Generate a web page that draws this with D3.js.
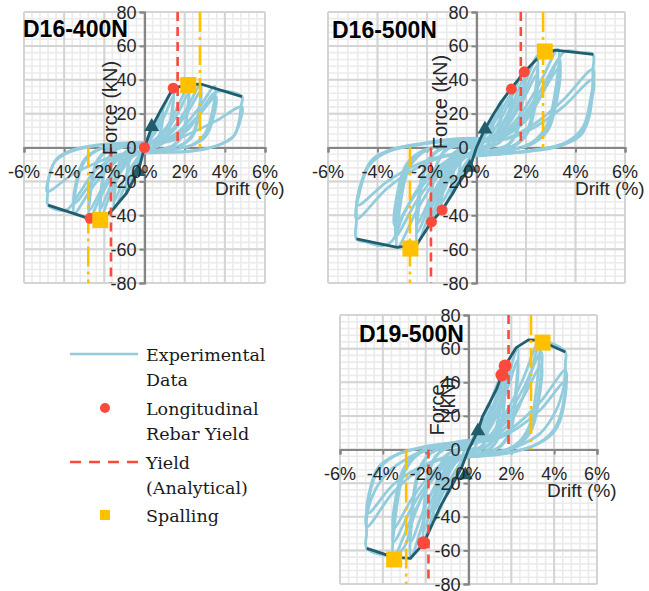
<!DOCTYPE html>
<html><head><meta charset="utf-8">
<script src="https://cdn.jsdelivr.net/npm/d3@7"></script>
<style>body{margin:0;background:#fff} svg{display:block}</style>
</head><body>
<svg id="chart" width="649" height="591"></svg>
<script>
// Axis ticks shared by all three specimens
const driftTicks = [-6, -4, -2, 0, 2, 4, 6];
const forceTicks = [-80, -60, -40, -20, 0, 20, 40, 60, 80];
const driftTickLabels = ["-6%", "-4%", "-2%", "0%", "2%", "4%", "6%"];

// ---------- D16-400N ----------
const d16_400_loops = [
  [[0,0],[0.11,4],[0.23,8],[0.36,12],[0.32,5.5],[0.25,1.5],[0.12,0],[-0.09,-4],[-0.2,-9],[-0.31,-14],[-0.28,-6.5],[-0.22,-1.7],[-0.11,0],[0,0.5]],
  [[0,0.5],[0.27,7],[0.58,15.5],[0.9,24],[0.81,11],[0.63,3],[0.32,0],[0,-1],[-0.27,-8],[-0.58,-17.5],[-0.9,-27],[-0.81,-12],[-0.63,-3.2],[-0.32,0],[0,1]],
  [[0,1],[0.27,5],[0.58,12],[0.9,20],[0.81,9],[0.63,2.5],[0.32,0],[0,-1],[-0.27,-6],[-0.58,-14],[-0.9,-22],[-0.81,-10],[-0.63,-2.7],[-0.32,0],[0,1]],
  [[0,1],[0.43,10.5],[0.93,23],[1.43,35],[1.29,16],[1.0,4],[0.5,0],[0,-2],[-0.45,-11],[-0.98,-23],[-1.5,-36],[-1.35,-16],[-1.05,-4.3],[-0.52,0],[0,1.5]],
  [[0,1.5],[0.43,7],[0.93,17],[1.43,30],[1.29,14],[1.0,3.5],[0.5,0],[0,-2],[-0.45,-8],[-0.98,-18],[-1.5,-31],[-1.35,-14],[-1.05,-3.6],[-0.52,0],[0,1.5]],
  [[0,1.5],[0.55,5],[1.1,12],[1.65,24],[2.2,37],[2.11,20],[1.89,8],[1.5,2],[0.88,-1.3],[0.2,-2.5],[-0.55,-5],[-1.1,-13],[-1.65,-26],[-2.2,-42],[-2.11,-23],[-1.89,-9],[-1.5,-2],[-0.88,1],[-0.1,2]],
  [[-0.1,2],[0.55,4],[1.1,10],[1.65,20],[2.2,32],[2.11,18],[1.89,7],[1.5,1.6],[0.88,-1.1],[0.2,-2],[-0.55,-4],[-1.1,-11],[-1.65,-22],[-2.2,-36],[-2.11,-20],[-1.89,-8],[-1.5,-1.8],[-0.88,1],[-0.1,2]],
  [[-0.1,2],[0.7,4],[1.4,11],[2.1,23],[2.8,37.5],[2.69,21],[2.41,8],[1.9,2],[1.12,-1.2],[0.28,-2.5],[-0.69,-4.5],[-1.38,-13],[-2.06,-26],[-2.75,-42],[-2.64,-23],[-2.37,-9],[-1.87,-2],[-1.1,1.2],[-0.1,2.5]],
  [[-0.1,2.5],[0.7,3.5],[1.4,9.5],[2.1,20],[2.8,33],[2.69,18.5],[2.41,7],[1.9,1.8],[1.12,-1.1],[0.28,-2.2],[-0.69,-4],[-1.38,-11.5],[-2.06,-23],[-2.75,-37],[-2.64,-20],[-2.37,-8],[-1.87,-1.8],[-1.1,1.1],[-0.1,2.2]],
  [[-0.1,2.5],[0.88,4],[1.75,10],[2.63,22],[3.5,36],[3.36,20],[3.0,8],[2.4,1.8],[1.4,-1.2],[0.35,-2.5],[-0.88,-4],[-1.75,-12],[-2.63,-24],[-3.5,-39],[-3.36,-21],[-3.0,-8.5],[-2.4,-2],[-1.4,1.5],[-0.1,2.5]],
  [[-0.1,2.5],[0.89,3.5],[1.78,8.5],[2.66,18.5],[3.55,30],[3.4,16.5],[3.05,6.6],[2.4,1.5],[1.42,-1],[0.35,-2],[-0.88,-3.3],[-1.75,-10],[-2.63,-20.5],[-3.5,-33],[-3.36,-18],[-3.0,-7.3],[-2.4,-1.7],[-1.4,1.3],[-0.1,2.3]],
  [[-0.1,2.3],[1.2,4],[2.2,11],[3.0,25],[3.6,33],[4.85,30],[4.8,24],[4.72,16],[4.45,7],[3.6,1],[2.2,-2.5],[0.6,-3],[-1.2,-5],[-2.4,-13],[-3.3,-28],[-3.9,-37],[-4.8,-34],[-4.82,-27],[-4.8,-20],[-4.5,-9],[-3.8,-3],[-2.5,1],[-1.2,2.5],[0,3]],
  [[0,3],[1.2,3.5],[2.4,9],[3.6,16],[4.85,24],[4.72,14],[4.4,6],[3.7,1.5],[2.3,-2],[0.6,-2.8],[-1.2,-4],[-2.4,-9],[-3.6,-16],[-4.85,-26],[-4.72,-16],[-4.4,-7],[-3.7,-2],[-2.3,1.5],[-0.8,2.5],[0,2.5]]
];
const d16_400_envelope = [[-4.8,-34],[-2.75,-42],[-2.2,-42.5],[-1.6,-37],[-0.9,-27],[-0.31,-14],[0,0],[0.36,12],[0.9,24],[1.43,35],[2.18,37],[2.8,37.5],[4.85,30]];
const d16_400_rebarYield = [[1.43,35],[0,0],[-2.71,-41.8]];
const d16_400_spalling = [[2.18,36.9],[-2.2,-42.8]];
const d16_400_cracking = [[0.36,12.3],[-0.31,-14.3]];
const d16_400_yieldDrift = [1.65, -1.67];
const d16_400_spallDrift = [2.76, -2.8];

// ---------- D16-500N ----------
const d16_500_loops = [
  [[0,0],[0.08,2],[0.17,5],[0.25,7],[0.22,3],[0.1,0],[-0.08,-2],[-0.17,-5],[-0.25,-8],[-0.22,-3],[-0.1,0],[0,1]],
  [[0,1],[0.1,3.5],[0.22,7],[0.34,11],[0.3,5],[0.22,1],[0.1,0],[-0.08,-3.5],[-0.17,-7.5],[-0.27,-12],[-0.24,-5],[-0.17,-1],[-0.08,0],[0,1]],
  [[0,1],[0.21,6],[0.45,13],[0.7,20],[0.63,9],[0.49,2.4],[0.25,0],[0,-1],[-0.22,-6],[-0.47,-14],[-0.72,-21],[-0.65,-9.5],[-0.5,-2.5],[-0.25,0],[0,1.5]],
  [[0,1.5],[0.3,8],[0.65,17.5],[1.0,27],[0.9,12],[0.7,3],[0.35,0],[0,-2],[-0.3,-8.5],[-0.65,-18],[-1.0,-28],[-0.9,-12.5],[-0.7,-3.5],[-0.35,0],[0,2]],
  [[0,1.5],[0.3,6.5],[0.65,14.5],[1.0,23],[0.9,10],[0.7,2.6],[0.35,0],[0,-1.5],[-0.3,-7],[-0.65,-15],[-1.0,-24],[-0.9,-10.5],[-0.7,-3],[-0.35,0],[0,1.5]],
  [[0,2],[0.42,10.5],[0.91,23],[1.4,35],[1.26,16],[0.98,4],[0.49,0],[0,-3],[-0.42,-11],[-0.91,-24],[-1.4,-37],[-1.26,-17],[-0.98,-4.5],[-0.49,0],[0,2.5]],
  [[0,2],[0.42,8.5],[0.91,19],[1.4,31],[1.26,14],[0.98,3.5],[0.49,0],[0,-2.5],[-0.42,-9],[-0.91,-20],[-1.4,-32],[-1.26,-14.5],[-0.98,-4],[-0.49,0],[0,2]],
  [[0,2.5],[0.48,6],[0.95,16],[1.43,30],[1.9,45],[1.82,25],[1.63,10],[1.29,2],[0.76,-1.3],[0.2,-3],[-0.46,-6],[-0.93,-14],[-1.39,-28],[-1.85,-44],[-1.78,-24],[-1.59,-10],[-1.26,-2],[-0.74,1.4],[-0.1,3]],
  [[-0.1,3],[0.48,4],[0.95,12],[1.43,25],[1.9,40],[1.82,22],[1.63,9],[1.29,1.5],[0.76,-1.2],[0.2,-2.5],[-0.46,-4.5],[-0.93,-12],[-1.39,-25],[-1.85,-40],[-1.78,-22],[-1.59,-9],[-1.26,-1.5],[-0.74,1.2],[-0.1,2.5]],
  [[-0.1,2.5],[0.61,6],[1.23,17],[1.84,34],[2.45,54],[2.35,30],[2.1,12],[1.67,2.7],[0.98,-1.7],[0.25,-3.5],[-0.6,-6],[-1.2,-17],[-1.8,-35],[-2.4,-57],[-2.3,-31],[-2.06,-12.5],[-1.63,-2.8],[-0.96,1.6],[-0.1,3.5]],
  [[-0.1,3.5],[0.61,5],[1.23,14],[1.84,30],[2.45,48],[2.35,26],[2.1,10.5],[1.67,2.4],[0.98,-1.5],[0.25,-3],[-0.6,-5],[-1.2,-15],[-1.8,-31],[-2.4,-50],[-2.3,-27],[-2.06,-11],[-1.63,-2.5],[-0.96,1.5],[-0.1,3.5]],
  [[-0.1,3.5],[0.61,4.5],[1.23,12.5],[1.84,27],[2.45,43],[2.35,23],[2.1,9.5],[1.67,2.2],[0.98,-1.4],[0.25,-2.8],[-0.6,-4.5],[-1.2,-13.5],[-1.8,-28],[-2.4,-45],[-2.3,-24],[-2.06,-10],[-1.63,-2.3],[-0.96,1.4],[-0.1,3.2]],
  [[-0.1,3.5],[0.83,6],[1.65,17],[2.48,36],[3.3,58],[3.17,32],[2.84,13],[2.24,3],[1.32,-1.8],[0.33,-4],[-0.8,-6],[-1.6,-18],[-2.4,-37],[-3.2,-59],[-3.07,-33],[-2.75,-13],[-2.18,-3],[-1.28,1.7],[-0.1,4.5]],
  [[-0.1,4.5],[0.84,5],[1.68,15],[2.51,32],[3.35,52],[3.22,29],[2.88,11.5],[2.28,2.6],[1.34,-1.6],[0.33,-3.5],[-0.81,-5],[-1.63,-16],[-2.44,-32],[-3.25,-52],[-3.12,-29],[-2.8,-11.5],[-2.21,-2.6],[-1.3,1.6],[-0.1,4.5]],
  [[-0.1,4.5],[0.84,4.5],[1.68,13],[2.51,29],[3.35,47],[3.22,26],[2.88,10],[2.28,2.4],[1.34,-1.4],[0.33,-3],[-0.83,-4.5],[-1.65,-14],[-2.48,-28],[-3.3,-46],[-3.17,-25],[-2.84,-10],[-2.24,-2.3],[-1.32,1.4],[-0.1,4]],
  [[-0.1,4],[1.0,6],[2.0,16],[2.8,36],[3.3,52],[3.6,57],[4.2,56],[4.7,55],[4.7,45],[4.69,35],[4.55,18],[4.2,7],[3.4,1],[2.0,-2.5],[0.5,-4.5],[-1.0,-7],[-2.0,-17],[-2.9,-38],[-3.4,-55],[-3.8,-58],[-4.4,-56],[-4.85,-54],[-4.85,-43],[-4.84,-32],[-4.6,-18],[-4.2,-7],[-3.4,-1],[-2.2,2.5],[-1.0,5],[0,5.5]],
  [[0,5.5],[1.2,5.5],[2.35,14],[3.5,28],[4.7,46],[4.6,28],[4.3,12],[3.6,3],[2.2,-2],[0.6,-4],[-1.2,-5],[-2.4,-12],[-3.6,-24],[-4.85,-42],[-4.7,-25],[-4.35,-11],[-3.6,-2.5],[-2.2,2],[-0.8,4.5],[0,5]],
  [[0,5],[1.2,5],[2.35,12],[3.5,24],[4.7,40],[4.6,24],[4.3,10],[3.6,2.5],[2.2,-1.8],[0.6,-3.5],[-1.2,-4.5],[-2.4,-10],[-3.6,-20],[-4.8,-34],[-4.65,-21],[-4.3,-9],[-3.5,-2],[-2.2,2],[-0.8,4],[0,4.5]]
];
const d16_500_envelope = [[-4.85,-54],[-3.2,-59],[-2.4,-57],[-1.82,-44],[-1.4,-37],[-1.0,-28],[-0.72,-21],[-0.27,-12],[0,0],[0.34,11],[0.7,20],[1.0,27],[1.41,35],[1.96,45],[2.49,53],[3.17,57.5],[4.72,55]];
const d16_500_rebarYield = [[1.41,34.5],[1.93,44.7],[-1.39,-36.9],[-1.82,-43.9]];
const d16_500_spalling = [[2.76,56.7],[-2.67,-59.6]];
const d16_500_cracking = [[0.34,10.8],[-0.27,-11.8]];
const d16_500_yieldDrift = [1.79, -1.84];
const d16_500_spallDrift = [2.69, -2.69];

// ---------- D19-500N ----------
const d19_500_loops = [
  [[0,0],[0.13,3.5],[0.29,7.5],[0.44,11],[0.4,5],[0.31,1.3],[0.15,0],[-0.09,-3],[-0.2,-6.5],[-0.3,-10],[-0.27,-4.5],[-0.21,-1.2],[-0.1,0],[0,0.5]],
  [[0,0.5],[0.3,8.5],[0.65,18],[1.0,28],[0.9,12.5],[0.7,3.3],[0.35,0],[0,-1.5],[-0.3,-8],[-0.65,-17.5],[-1.0,-27],[-0.9,-12],[-0.7,-3.2],[-0.35,0],[0,1.5]],
  [[0,1],[0.3,7],[0.65,14.5],[1.0,23],[0.9,10.5],[0.7,2.8],[0.35,0],[0,-1.5],[-0.3,-6.5],[-0.65,-14],[-1.0,-22],[-0.9,-10],[-0.7,-2.7],[-0.35,0],[0,1.2]],
  [[0,1.5],[0.47,13],[1.0,28],[1.56,44],[1.4,20],[1.09,5],[0.55,0],[0,-2.5],[-0.48,-12.5],[-1.04,-27],[-1.6,-42],[-1.44,-19],[-1.12,-5],[-0.56,0],[0,2.5]],
  [[0,1.5],[0.47,10],[1.0,22],[1.56,37],[1.4,17],[1.09,4.3],[0.55,0],[0,-2.5],[-0.48,-10],[-1.04,-22],[-1.6,-36],[-1.44,-16],[-1.12,-4.3],[-0.56,0],[0,2]],
  [[0,2.5],[0.43,6],[0.86,16],[1.28,31],[1.71,50],[1.64,27],[1.47,11],[1.16,2.5],[0.68,-1.7],[0.1,-3.5],[-0.53,-7],[-1.05,-18],[-1.58,-35],[-2.1,-56],[-2.02,-31],[-1.8,-12],[-1.43,-2.8],[-0.84,1.7],[-0.1,3]],
  [[0,2.5],[0.43,5],[0.86,13.5],[1.28,27],[1.71,43],[1.64,23],[1.47,9.5],[1.16,2.2],[0.68,-1.5],[0.1,-3],[-0.53,-6],[-1.05,-15.5],[-1.58,-30],[-2.1,-48],[-2.02,-26.5],[-1.8,-10.5],[-1.43,-2.5],[-0.84,1.5],[-0.1,2.8]],
  [[-0.1,3],[0.58,7],[1.15,19],[1.73,38],[2.3,61],[2.2,34],[1.98,13.5],[1.56,3],[0.92,-2],[0.2,-4],[-0.68,-7.5],[-1.35,-20],[-2.03,-40],[-2.7,-64.8],[-2.6,-36],[-2.32,-14],[-1.84,-3.2],[-1.08,2],[-0.1,4]],
  [[-0.1,4],[0.58,6],[1.15,16],[1.73,33],[2.3,53],[2.2,29],[1.98,11.7],[1.56,2.6],[0.92,-1.7],[0.2,-3.3],[-0.68,-6],[-1.35,-17],[-2.03,-34],[-2.7,-55],[-2.6,-30],[-2.32,-12],[-1.84,-2.8],[-1.08,1.6],[-0.1,3.5]],
  [[-0.1,3.5],[0.83,6.5],[1.65,20],[2.48,40],[3.3,65],[3.17,36],[2.84,14],[2.24,3.2],[1.32,-2],[0.33,-4],[-0.88,-6.5],[-1.75,-19],[-2.63,-40],[-3.5,-64],[-3.36,-35],[-3.0,-14],[-2.38,-3.2],[-1.4,2],[-0.1,4.5]],
  [[-0.1,4.5],[0.85,6],[1.7,18],[2.55,36],[3.4,58],[3.26,32],[2.92,13],[2.31,2.9],[1.36,-1.8],[0.34,-3.6],[-0.88,-5.5],[-1.75,-17],[-2.63,-34],[-3.5,-55],[-3.36,-30],[-3.0,-12],[-2.38,-2.8],[-1.4,1.8],[-0.1,4.5]],
  [[-0.1,4.5],[0.85,5.5],[1.7,15.5],[2.55,31],[3.4,50],[3.26,27.5],[2.92,11],[2.31,2.5],[1.36,-1.5],[0.34,-3],[-0.88,-5],[-1.75,-14.5],[-2.63,-29],[-3.5,-47],[-3.36,-26],[-3.0,-10.5],[-2.38,-2.4],[-1.4,1.6],[-0.1,4]],
  [[-0.1,4],[1.0,6],[2.0,17],[2.8,40],[3.3,62],[3.6,64],[4.52,58],[4.53,52],[4.52,47],[4.44,37],[4.1,23.5],[3.35,9.6],[2.26,1.7],[1.0,-3],[-0.5,-6],[-1.6,-16],[-2.5,-38],[-3.0,-58],[-3.5,-63],[-4.75,-58.8],[-4.76,-50],[-4.75,-40],[-4.5,-28],[-3.8,-14],[-2.72,-4.3],[-1.63,1.7],[-0.55,4.6],[0,5.6]],
  [[0,5.6],[1.13,6],[2.26,15],[3.4,29],[4.52,47],[4.42,27],[4.05,13],[3.3,4],[2.1,-1.5],[0.6,-4],[-1.2,-5.5],[-2.4,-13],[-3.55,-26],[-4.75,-46],[-4.62,-27],[-4.25,-13],[-3.4,-3.5],[-2.1,1.5],[-0.7,4],[0,4.8]],
  [[0,4.8],[1.13,5.5],[2.25,12.5],[3.38,24],[4.5,40],[4.4,23],[4.03,11],[3.28,3.5],[2.1,-1.3],[0.6,-3.5],[-1.17,-5],[-2.35,-11],[-3.52,-21],[-4.7,-38],[-4.57,-22],[-4.2,-10.5],[-3.36,-3],[-2.1,1.4],[-0.7,3.8],[0,4.5]]
];
const d19_500_envelope = [[-4.75,-58.8],[-3.5,-64],[-2.72,-64.8],[-2.1,-56],[-1.32,-34],[-0.62,-18],[-0.3,-10],[0,0],[0.44,11],[0.65,19.5],[1.0,28],[1.33,36.5],[1.71,50],[2.23,60.6],[2.8,65.2],[3.3,65],[4.52,58]];
const d19_500_rebarYield = [[1.56,44.3],[1.71,49.7],[-2.1,-55.5]];
const d19_500_spalling = [[3.46,63.6],[-3.47,-65.4]];
const d19_500_cracking = [[0.44,11],[-0.15,-15.2]];
const d19_500_yieldDrift = [1.87, -1.87];
const d19_500_spallDrift = [2.92, -2.91];

// Legend entries
const legendLabels = [["Experimental", "Data"], ["Longitudinal", "Rebar Yield"], ["Yield", "(Analytical)"], ["Spalling"]];

// Colours
const C = {
  loop: "#93cddd", env: "#215d6c", red: "#fa4a3c", yellow: "#ffc000",
  gridMajor: "#d4d4d4", gridMinor: "#ebebeb", axis: "#868686", text: "#262626"
};

// Panel layout (pixel boxes of each plot area)
const panels = [
  { title: "D16-400N", loops: d16_400_loops, env: d16_400_envelope, ry: d16_400_rebarYield, sp: d16_400_spalling,
    cr: d16_400_cracking, yd: d16_400_yieldDrift, sd: d16_400_spallDrift, dotR: 5.5,
    box: [24, 265, 12, 283], titlePos: [23, 37], forcePos: [[117, 108, "Force (kN)"]] },
  { title: "D16-500N", loops: d16_500_loops, env: d16_500_envelope, ry: d16_500_rebarYield, sp: d16_500_spalling,
    cr: d16_500_cracking, yd: d16_500_yieldDrift, sd: d16_500_spallDrift, dotR: 5.5,
    box: [328, 625, 12, 283], titlePos: [332, 38], forcePos: [[447, 102, "Force (kN)"]] },
  { title: "D19-500N", loops: d19_500_loops, env: d19_500_envelope, ry: d19_500_rebarYield, sp: d19_500_spalling,
    cr: d19_500_cracking, yd: d19_500_yieldDrift, sd: d19_500_spallDrift, dotR: 6.5,
    box: [340, 597, 315, 584], titlePos: [359, 342], forcePos: [[444, 410, "Force"], [455, 396, "(kN)"]] }
];

const svg = d3.select("#chart");
const sans = "'Liberation Sans', Arial, sans-serif";

panels.forEach(p => {
  const [x0, x1, y0, y1] = p.box;
  const x = d3.scaleLinear().domain([-6, 6]).range([x0, x1]);
  const y = d3.scaleLinear().domain([-80, 80]).range([y1, y0]);
  const g = svg.append("g");

  // minor grid
  const minorX = d3.range(-6, 6.001, 0.4), minorY = d3.range(-80, 80.001, 4);
  g.append("g").selectAll("line").data(minorX).join("line")
    .attr("x1", d => x(d)).attr("x2", d => x(d)).attr("y1", y0).attr("y2", y1)
    .attr("stroke", C.gridMinor).attr("stroke-width", 1.6);
  g.append("g").selectAll("line").data(minorY).join("line")
    .attr("y1", d => y(d)).attr("y2", d => y(d)).attr("x1", x0).attr("x2", x1)
    .attr("stroke", C.gridMinor).attr("stroke-width", 1.6);
  // major grid
  g.append("g").selectAll("line").data(driftTicks).join("line")
    .attr("x1", d => x(d)).attr("x2", d => x(d)).attr("y1", y0).attr("y2", y1)
    .attr("stroke", C.gridMajor).attr("stroke-width", 2);
  g.append("g").selectAll("line").data(forceTicks).join("line")
    .attr("y1", d => y(d)).attr("y2", d => y(d)).attr("x1", x0).attr("x2", x1)
    .attr("stroke", C.gridMajor).attr("stroke-width", 2);

  // axes through the origin
  const xAxis = d3.axisBottom(x).tickValues(driftTicks).tickSize(5).tickFormat("");
  const yAxis = d3.axisLeft(y).tickValues(forceTicks).tickSize(5).tickFormat("");
  const ax = g.append("g").attr("transform", `translate(0,${y(0)})`).call(xAxis);
  const ay = g.append("g").attr("transform", `translate(${x(0)},0)`).call(yAxis);
  [ax, ay].forEach(a => {
    a.select(".domain").attr("stroke", C.axis).attr("stroke-width", 2.2);
    a.selectAll(".tick line").attr("stroke", C.axis).attr("stroke-width", 2);
  });

  // hysteresis loops
  const line = d3.line().x(d => x(d[0])).y(d => y(d[1])).curve(d3.curveCatmullRom.alpha(0.5));
  g.append("g").selectAll("path").data(p.loops).join("path")
    .attr("d", line).attr("fill", "none").attr("stroke", C.loop)
    .attr("stroke-width", 2.8).attr("stroke-linejoin", "round");

  // backbone envelope
  const envLine = d3.line().x(d => x(d[0])).y(d => y(d[1]));
  g.append("path").attr("d", envLine(p.env)).attr("fill", "none")
    .attr("stroke", C.env).attr("stroke-width", 2.8).attr("stroke-linejoin", "round");

  // analytical yield and spalling drifts
  p.yd.forEach(v => {
    g.append("line").attr("x1", x(v)).attr("x2", x(v))
      .attr("y1", v > 0 ? y(80) : y(0)).attr("y2", v > 0 ? y(0) : y(-80))
      .attr("stroke", C.red).attr("stroke-width", 2.6).attr("stroke-dasharray", "9,6");
  });
  p.sd.forEach(v => {
    g.append("line").attr("x1", x(v)).attr("x2", x(v))
      .attr("y1", v > 0 ? y(80) : y(0)).attr("y2", v > 0 ? y(0) : y(-80))
      .attr("stroke", C.yellow).attr("stroke-width", 2.6).attr("stroke-dasharray", "20,5,3,5");
  });

  // cracking markers
  g.append("g").selectAll("path").data(p.cr).join("path")
    .attr("transform", d => `translate(${x(d[0])},${y(d[1])})`)
    .attr("d", d3.symbol(d3.symbolTriangle, 95)).attr("fill", C.env);
  // rebar yield markers
  g.append("g").selectAll("circle").data(p.ry).join("circle")
    .attr("cx", d => x(d[0])).attr("cy", d => y(d[1])).attr("r", p.dotR).attr("fill", C.red);
  // spalling markers
  g.append("g").selectAll("rect").data(p.sp).join("rect")
    .attr("x", d => x(d[0]) - 8).attr("y", d => y(d[1]) - 8).attr("width", 16).attr("height", 16)
    .attr("fill", C.yellow);

  // tick labels
  g.append("g").selectAll("text").data(driftTicks).join("text")
    .attr("x", d => x(d)).attr("y", y(0) + 30).attr("text-anchor", "middle")
    .attr("font-family", sans).attr("font-size", 18).attr("fill", C.text)
    .text((d, i) => driftTickLabels[i]);
  g.append("g").selectAll("text").data(forceTicks).join("text")
    .attr("x", x(0) - 8).attr("y", d => y(d) + 6.5).attr("text-anchor", "end")
    .attr("font-family", sans).attr("font-size", 18).attr("fill", C.text)
    .text(d => d);

  // axis titles
  g.append("text").attr("x", x1 - 50).attr("y", y(0) + 47)
    .attr("font-family", sans).attr("font-size", 19).attr("fill", C.text).text("Drift (%)");
  p.forcePos.forEach(([fx, fy, t]) => {
    g.append("text").attr("transform", `translate(${fx},${fy}) rotate(-90)`)
      .attr("text-anchor", "middle").attr("font-family", sans).attr("font-size", 20)
      .attr("fill", C.text).text(t);
  });

  // specimen title
  g.append("text").attr("x", p.titlePos[0]).attr("y", p.titlePos[1])
    .attr("font-family", sans).attr("font-weight", "bold").attr("font-size", 23)
    .attr("fill", "#000").text(p.title);
});

// legend
const lg = svg.append("g");
const serif = "'DejaVu Serif', 'Liberation Serif', serif";
const rowY = [354, 408, 462, 515];
lg.append("line").attr("x1", 70).attr("x2", 138).attr("y1", rowY[0]).attr("y2", rowY[0])
  .attr("stroke", C.loop).attr("stroke-width", 2.6);
lg.append("circle").attr("cx", 105).attr("cy", rowY[1]).attr("r", 5).attr("fill", C.red);
lg.append("line").attr("x1", 70).attr("x2", 138).attr("y1", rowY[2]).attr("y2", rowY[2])
  .attr("stroke", C.red).attr("stroke-width", 2.6).attr("stroke-dasharray", "11,8");
lg.append("rect").attr("x", 100).attr("y", rowY[3] - 5).attr("width", 10).attr("height", 10).attr("fill", C.yellow);
legendLabels.forEach((lines, i) => {
  lines.forEach((t, j) => {
    lg.append("text").attr("x", 146).attr("y", rowY[i] + 7 + j * 25)
      .attr("font-family", serif).attr("font-size", 17.5).attr("fill", "#1a1a1a").text(t);
  });
});
</script>
</body></html>
